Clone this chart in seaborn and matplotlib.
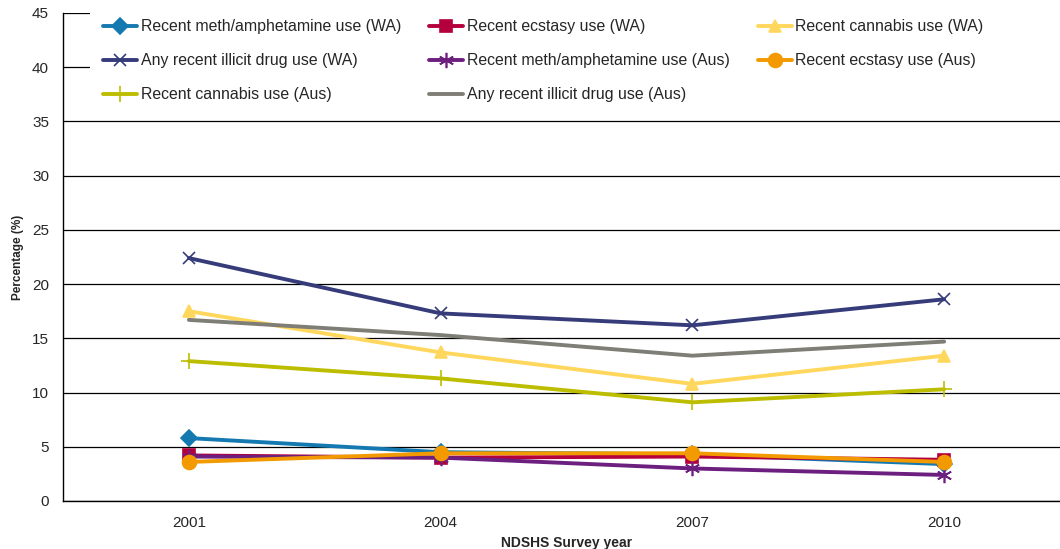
import matplotlib
matplotlib.use("Agg")
import matplotlib.pyplot as plt
from matplotlib.patches import Rectangle
import seaborn as sns
import pandas as pd

years = ["2001", "2004", "2007", "2010"]

meth_wa = [5.8, 4.5, 4.3, 3.4]
ecstasy_wa = [4.2, 4.0, 4.1, 3.8]
cannabis_wa = [17.5, 13.7, 10.8, 13.4]
illicit_wa = [22.4, 17.3, 16.2, 18.6]
meth_aus = [4.1, 4.0, 3.0, 2.4]
ecstasy_aus = [3.6, 4.4, 4.4, 3.6]
cannabis_aus = [12.9, 11.3, 9.1, 10.3]
illicit_aus = [16.7, 15.3, 13.4, 14.7]

series = [
    ("Recent meth/amphetamine use (WA)", meth_wa, "#1479B0", "D", 8),
    ("Recent ecstasy use (WA)", ecstasy_wa, "#B4003C", "s", 8),
    ("Recent cannabis use (WA)", cannabis_wa, "#FFD75C", "^", 9),
    ("Any recent illicit drug use (WA)", illicit_wa, "#363C7A", "x", 9),
    ("Recent meth/amphetamine use (Aus)", meth_aus, "#6C1F7E", (6, 2, 0), 11),
    ("Recent ecstasy use (Aus)", ecstasy_aus, "#F29A00", "o", 10),
    ("Recent cannabis use (Aus)", cannabis_aus, "#BDBD00", "+", 12),
    ("Any recent illicit drug use (Aus)", illicit_aus, "#7E7E76", None, 0),
]

sns.set_style("white")
plt.rcParams["font.family"] = ["Liberation Sans", "DejaVu Sans"]

fig = plt.figure(figsize=(10.6, 5.49), dpi=100)
ax = fig.add_axes([63 / 1060, 1 - 501 / 549, 1007 / 1060, 488 / 549])

handles = []
for name, vals, color, marker, ms in series:
    df = pd.DataFrame({"year": years, "value": vals})
    sns.lineplot(data=df, x="year", y="value", ax=ax, color=color,
                 marker=marker, markersize=ms, linewidth=2.8,
                 markeredgecolor=color, markeredgewidth=1.2,
                 sort=False, legend=False)
    line = ax.lines[-1]
    line.set_label(name)
    handles.append(line)

ax.set_ylim(0, 45)
ax.set_xlim(-0.5, 3.5)
ax.set_yticks(range(0, 46, 5))
ax.yaxis.grid(True, color="black", linewidth=0.9)
ax.set_axisbelow(True)

# white panel behind the legend area, hiding the two top gridlines
ax.add_patch(Rectangle((27 / 1007, 0.80), 1.0, 0.20, transform=ax.transAxes,
                       facecolor="white", edgecolor="none", zorder=1))

for side in ("top", "right"):
    ax.spines[side].set_visible(False)
for side in ("left", "bottom"):
    ax.spines[side].set_color("black")
    ax.spines[side].set_linewidth(1.0)

ax.tick_params(axis="y", which="major", direction="out", length=5, width=1,
               color="black", labelsize=11, pad=5)
ax.set_xticks([-0.5, 0.5, 1.5, 2.5, 3.5], minor=True)
ax.tick_params(axis="x", which="minor", direction="out", length=5, width=1,
               color="black")
ax.tick_params(axis="x", which="major", length=0, labelsize=11, pad=11)

ax.set_xlabel("NDSHS Survey year", fontsize=10, fontweight="bold", labelpad=4)
ax.set_ylabel("Percentage (%)", fontsize=8.5, fontweight="bold", labelpad=6)

order = [0, 3, 6, 1, 4, 7, 2, 5]
leg = ax.legend([handles[i] for i in order], [handles[i].get_label() for i in order],
                ncol=3, loc="upper left",
                bbox_to_anchor=(34 / 1007, 1.0), fontsize=11.4,
                frameon=False,
                handlelength=2.15, handletextpad=0.2, columnspacing=1.8,
                labelspacing=1.2, borderpad=0.4, borderaxespad=0.0)

fig.savefig("out.png", dpi=100)
